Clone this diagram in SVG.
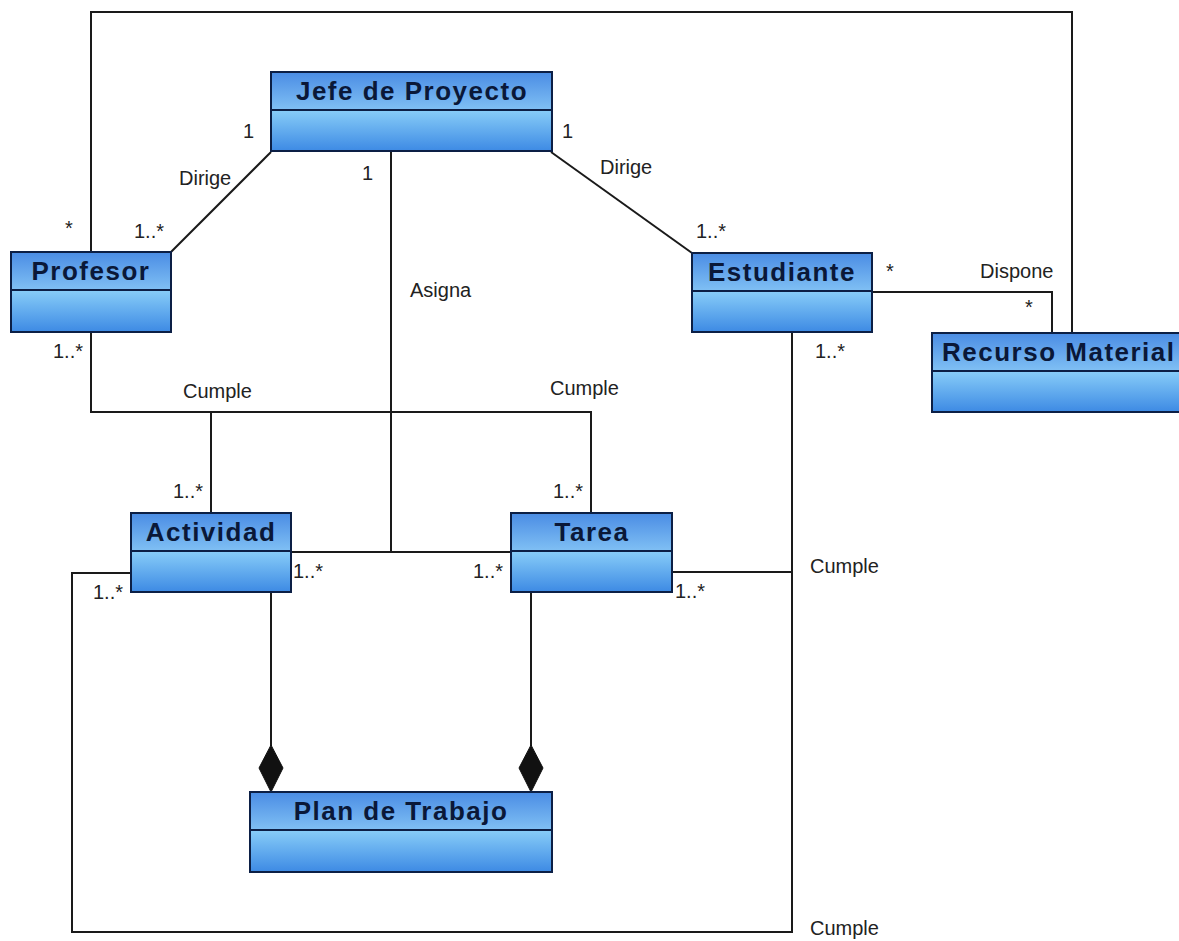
<svg xmlns="http://www.w3.org/2000/svg" width="1179" height="941" viewBox="0 0 1179 941">
<style>
.hd{fill:url(#gh);stroke:#0c1f45;stroke-width:2}
.bd{fill:url(#gb);stroke:#0c1f45;stroke-width:2}
.tt{font-family:"Liberation Sans",Arial,sans-serif;font-weight:bold;font-size:26px;letter-spacing:1.5px;fill:#0a1838;text-anchor:middle}
.ln{fill:none;stroke:#1a1a1a;stroke-width:2}
.lb{font-family:"Liberation Sans",Arial,sans-serif;font-size:20px;fill:#222}
.dm{fill:#111;stroke:#111;stroke-width:1}
</style>
<defs>
<linearGradient id="gh" x1="0" y1="0" x2="0" y2="1"><stop offset="0" stop-color="#4a8ce4"/><stop offset="1" stop-color="#80c0f4"/></linearGradient>
<linearGradient id="gb" x1="0" y1="0" x2="0" y2="1"><stop offset="0" stop-color="#88cdf8"/><stop offset="1" stop-color="#3d8ae4"/></linearGradient>
</defs>
<rect width="1179" height="941" fill="#fff"/>
<g id="connectors">
<polyline class="ln" points="91,252 91,12 1072,12 1072,333"/>
<line class="ln" x1="271" y1="152" x2="171" y2="252"/>
<line class="ln" x1="551" y1="152" x2="692" y2="253"/>
<polyline class="ln" points="391,152 391,552"/>
<line class="ln" x1="291" y1="552" x2="511" y2="552"/>
<polyline class="ln" points="91,332 91,412 591,412 591,513"/>
<line class="ln" x1="211" y1="412" x2="211" y2="513"/>
<polyline class="ln" points="872,292 1052,292 1052,333"/>
<polyline class="ln" points="792,332 792,932 72,932 72,573 131,573"/>
<line class="ln" x1="672" y1="572" x2="792" y2="572"/>
<line class="ln" x1="271" y1="592" x2="271" y2="746"/>
<line class="ln" x1="531" y1="592" x2="531" y2="746"/>
<polygon class="dm" points="271,745 283,768 271,792 259,768"/>
<polygon class="dm" points="531,745 543,768 531,792 519,768"/>
<text class="lb" x="243" y="138">1</text>
<text class="lb" x="179" y="185">Dirige</text>
<text class="lb" x="65" y="235">*</text>
<text class="lb" x="134" y="238">1..*</text>
<text class="lb" x="562" y="138">1</text>
<text class="lb" x="600" y="174">Dirige</text>
<text class="lb" x="696" y="238">1..*</text>
<text class="lb" x="362" y="180">1</text>
<text class="lb" x="410" y="297">Asigna</text>
<text class="lb" x="886" y="278">*</text>
<text class="lb" x="980" y="278">Dispone</text>
<text class="lb" x="1025" y="314">*</text>
<text class="lb" x="53" y="358">1..*</text>
<text class="lb" x="815" y="358">1..*</text>
<text class="lb" x="183" y="398">Cumple</text>
<text class="lb" x="550" y="395">Cumple</text>
<text class="lb" x="173" y="498">1..*</text>
<text class="lb" x="553" y="498">1..*</text>
<text class="lb" x="293" y="578">1..*</text>
<text class="lb" x="473" y="578">1..*</text>
<text class="lb" x="93" y="599">1..*</text>
<text class="lb" x="675" y="598">1..*</text>
<text class="lb" x="810" y="573">Cumple</text>
<text class="lb" x="810" y="935">Cumple</text>
</g>
<g id="jefe">
<rect class="hd" x="271" y="72" width="281" height="38"/>
<rect class="bd" x="271" y="110" width="281" height="41"/>
<text class="tt" x="412" y="100">Jefe de Proyecto</text>
</g>
<g id="profesor">
<rect class="hd" x="11" y="252" width="160" height="38"/>
<rect class="bd" x="11" y="290" width="160" height="42"/>
<text class="tt" x="91" y="280">Profesor</text>
</g>
<g id="estudiante">
<rect class="hd" x="692" y="253" width="180" height="38"/>
<rect class="bd" x="692" y="291" width="180" height="41"/>
<text class="tt" x="782" y="281">Estudiante</text>
</g>
<g id="recurso">
<rect class="hd" x="932" y="333" width="280" height="38"/>
<rect class="bd" x="932" y="371" width="280" height="41"/>
<text class="tt" x="942" y="361" style="text-anchor:start">Recurso Material</text>
</g>
<g id="actividad">
<rect class="hd" x="131" y="513" width="160" height="38"/>
<rect class="bd" x="131" y="551" width="160" height="41"/>
<text class="tt" x="211" y="541">Actividad</text>
</g>
<g id="tarea">
<rect class="hd" x="511" y="513" width="161" height="38"/>
<rect class="bd" x="511" y="551" width="161" height="41"/>
<text class="tt" x="592" y="541">Tarea</text>
</g>
<g id="plan">
<rect class="hd" x="250" y="792" width="302" height="38"/>
<rect class="bd" x="250" y="830" width="302" height="42"/>
<text class="tt" x="401" y="820">Plan de Trabajo</text>
</g>
</svg>
